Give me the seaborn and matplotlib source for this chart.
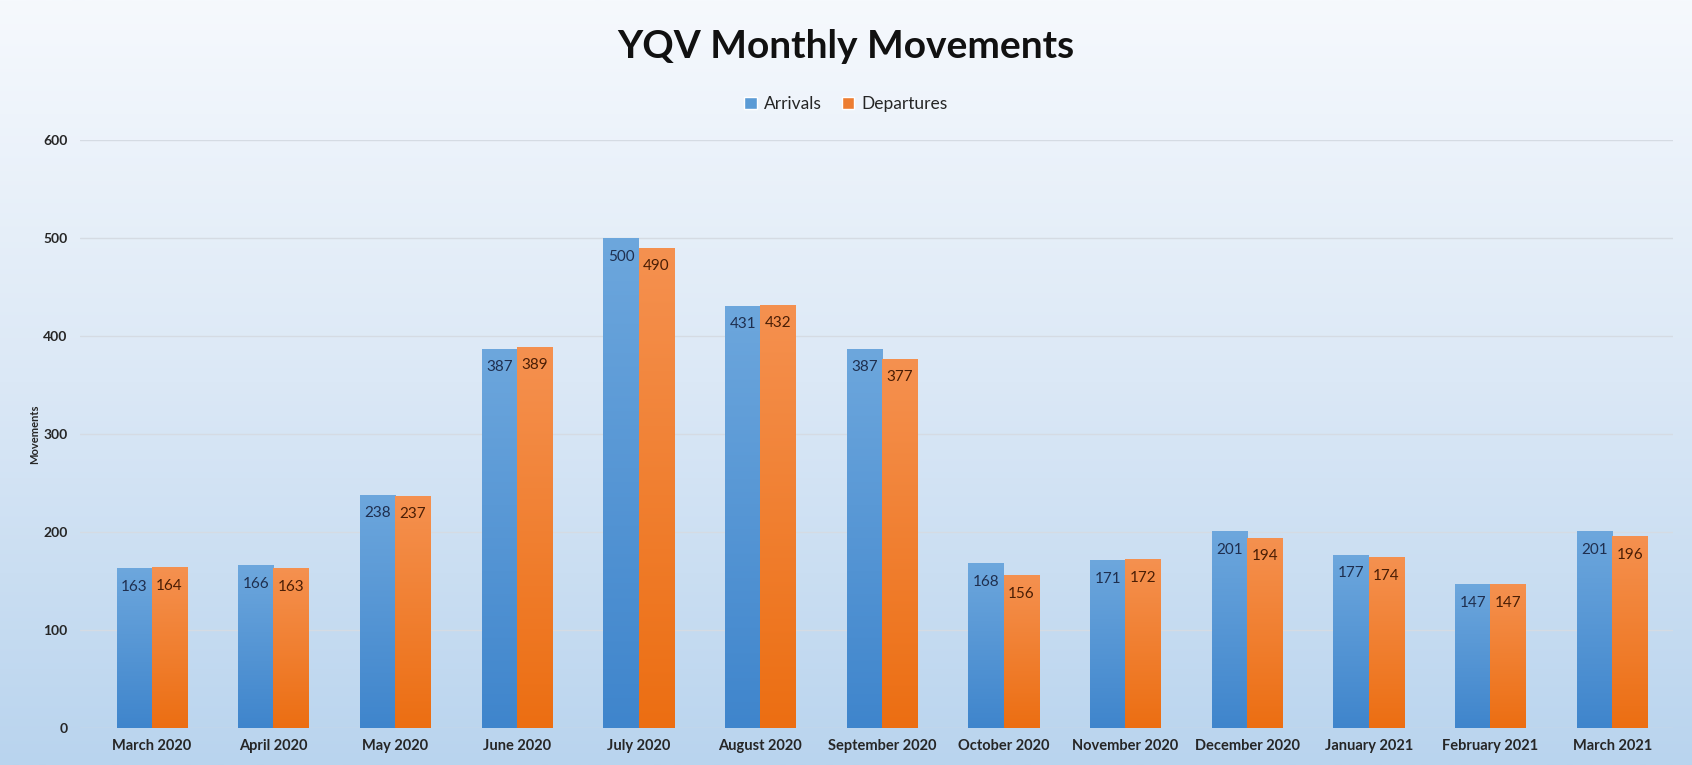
import numpy as np
import pandas as pd
import seaborn as sns
import matplotlib.pyplot as plt
from matplotlib.colors import LinearSegmentedColormap
from matplotlib.patches import Patch

months = ["March 2020", "April 2020", "May 2020", "June 2020", "July 2020",
          "August 2020", "September 2020", "October 2020", "November 2020",
          "December 2020", "January 2021", "February 2021", "March 2021"]
arrivals = [163, 166, 238, 387, 500, 431, 387, 168, 171, 201, 177, 147, 201]
departures = [164, 163, 237, 389, 490, 432, 377, 156, 172, 194, 174, 147, 196]
series = ["Arrivals", "Departures"]
y_ticks = [0, 100, 200, 300, 400, 500, 600]

sns.set_theme(style="white")
plt.rcParams['font.family'] = ['Lato', 'DejaVu Sans']

df = pd.DataFrame({
    "Month": months * 2,
    "Series": ["Arrivals"] * len(months) + ["Departures"] * len(months),
    "Movements": arrivals + departures,
})

W, H = 1692, 765
fig = plt.figure(figsize=(W / 100, H / 100), dpi=100)

# background gradient for the whole chart
bg = fig.add_axes([0, 0, 1, 1], zorder=-1)
bg_cmap = LinearSegmentedColormap.from_list("bg", ["#f6f9fd", "#dbe8f6", "#b9d4ee"])
bg.imshow(np.linspace(0, 1, 256).reshape(-1, 1), aspect="auto", cmap=bg_cmap,
          extent=[0, 1, 0, 1])
bg.set_axis_off()

ax = fig.add_axes([80 / W, 37 / H, 1593 / W, 588 / H])
ax.patch.set_alpha(0)

colors = {"Arrivals": "#5b9bd5", "Departures": "#ed7d31"}
sns.barplot(data=df, x="Month", y="Movements", hue="Series", order=months,
            hue_order=series, palette=colors, width=0.58, ax=ax,
            legend=False, saturation=1, zorder=3, linewidth=0, edgecolor="none")

grads = {
    "Arrivals": LinearSegmentedColormap.from_list("a", ["#3f85cc", "#6da7dd"]),
    "Departures": LinearSegmentedColormap.from_list("d", ["#ec6e12", "#f59150"]),
}
label_colors = {"Arrivals": "#1f2f4f", "Departures": "#4a1e05"}

grad = np.linspace(0, 1, 256).reshape(-1, 1)
for name, cont in zip(series, ax.containers):
    for bar in cont:
        x, w, h = bar.get_x(), bar.get_width(), bar.get_height()
        im = ax.imshow(grad[::-1], aspect="auto", cmap=grads[name],
                       extent=[x, x + w, 0, h], zorder=3.5, origin="upper")
        im.set_clip_path(bar)
        ax.text(x + w / 2, h - 19, f"{int(h)}", ha="center", va="center",
                fontsize=11, color=label_colors[name], zorder=5)

ax.set_xlim(-0.59, 12.5)
ax.set_ylim(0, 600)
ax.set_yticks(y_ticks)
ax.set_yticklabels([str(t) for t in y_ticks], fontsize=10, fontweight="bold")
ax.set_xticklabels(months, fontsize=10.5, fontweight="bold")
ax.tick_params(axis="x", pad=8, length=0)
ax.tick_params(axis="y", pad=9, length=0)
ax.yaxis.grid(True, color="#d5dbe3", linewidth=1, zorder=0)
ax.set_axisbelow(True)
for s in ax.spines.values():
    s.set_visible(False)
ax.set_xlabel("")
ax.set_ylabel("Movements", fontsize=8, fontweight="bold", labelpad=2)

fig.text(0.5, 1 - 47 / H, "YQV Monthly Movements", ha="center", va="center",
         fontsize=28, fontweight="bold", color="#111111")

handles = [Patch(facecolor=colors[s], label=s) for s in series]
fig.legend(handles=handles, loc="center", bbox_to_anchor=(0.5, 1 - 104 / H),
           ncol=2, frameon=False, fontsize=12.5, handlelength=0.7,
           handleheight=0.7, handletextpad=0.4, columnspacing=1.2)

plt.savefig("out.png", dpi=100)
